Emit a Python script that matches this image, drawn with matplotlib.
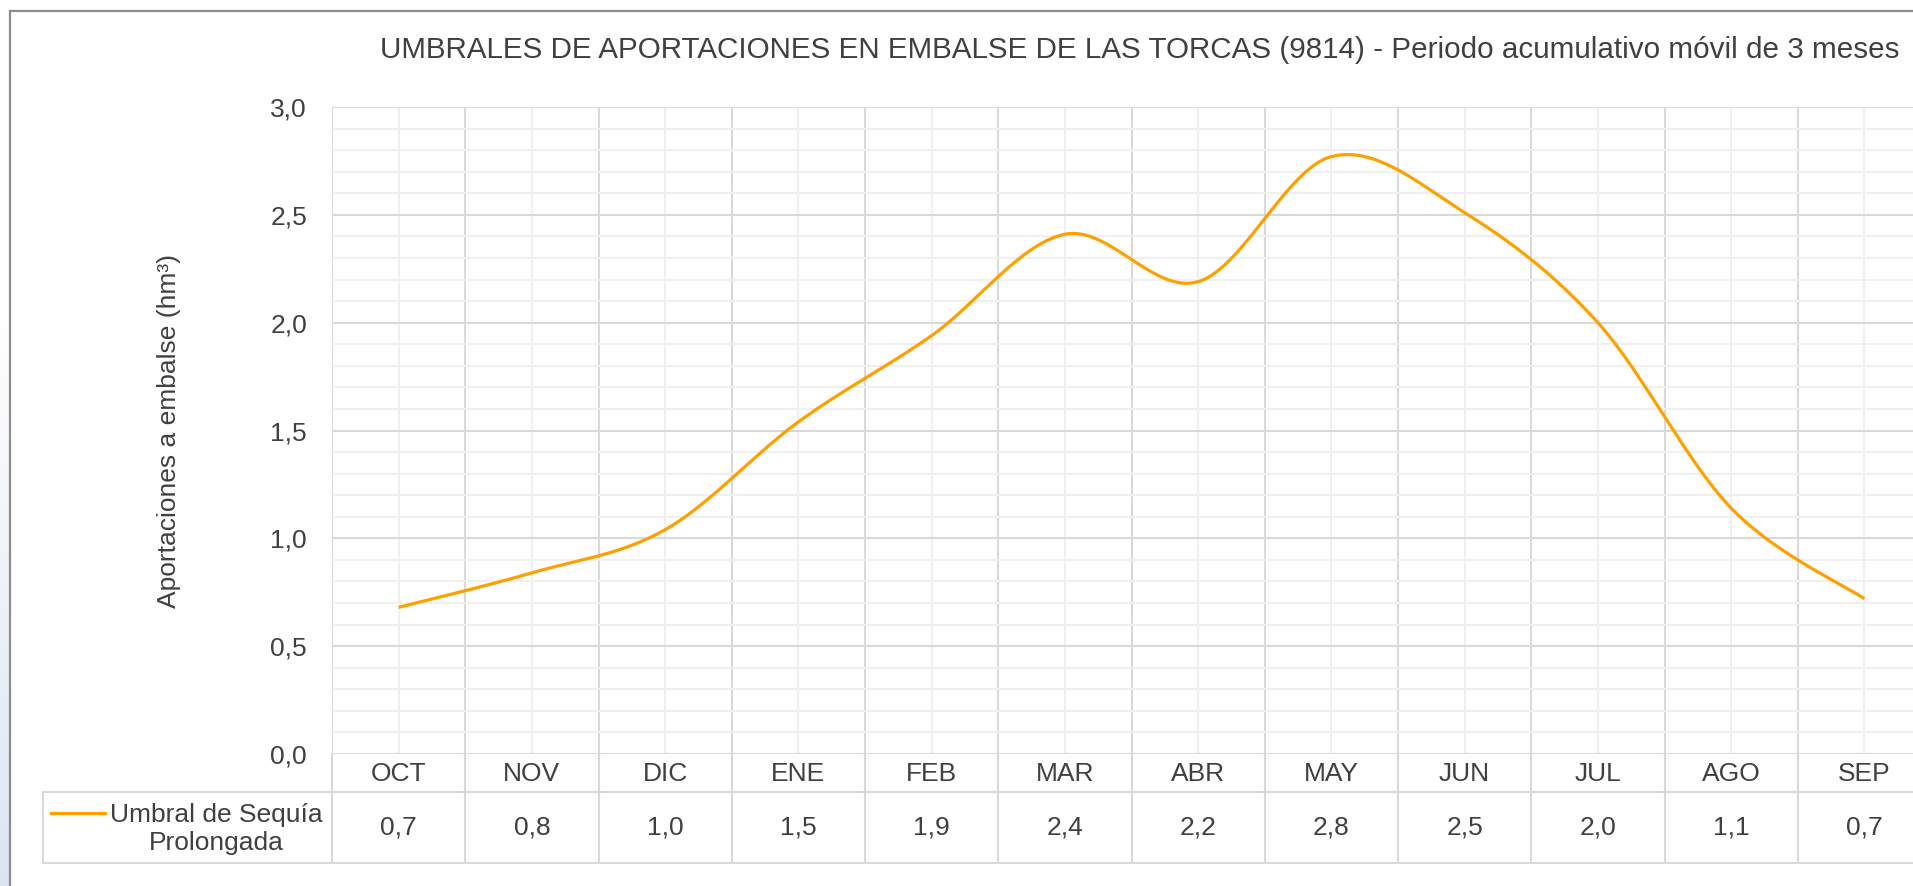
import numpy as np
import matplotlib
matplotlib.use("Agg")
import matplotlib.pyplot as plt
from matplotlib.lines import Line2D
from matplotlib import transforms

plt.rcParams['font.family'] = ['Liberation Sans', 'DejaVu Sans']

# datos
meses = ['OCT', 'NOV', 'DIC', 'ENE', 'FEB', 'MAR', 'ABR', 'MAY', 'JUN', 'JUL', 'AGO', 'SEP']
umbral_sequia = [0.68, 0.84, 1.04, 1.54, 1.94, 2.41, 2.19, 2.77, 2.51, 2.00, 1.14, 0.72]
serie_nombre = 'Umbral de Sequía\nProlongada'
titulo = ('UMBRALES DE APORTACIONES EN EMBALSE DE LAS TORCAS (9814) - '
          'Periodo acumulativo móvil de 3 meses')
y_ticks = [0.0, 0.5, 1.0, 1.5, 2.0, 2.5, 3.0]

W, H = 1913, 886
TXT = '#404040'
GRID_MAJ = '#d9d9d9'
GRID_MIN = '#f0f0f0'
NARANJA = '#ffa000'
FS = 19


def coma(v):
    return f"{v:.1f}".replace('.', ',')


def suavizar(xs, ys, n=40):
    # curva suavizada tipo excel (bezier con tangentes catmull-rom)
    xs = np.asarray(xs, float)
    ys = np.asarray(ys, float)
    px = np.concatenate([[xs[0]], xs, [xs[-1]]])
    py = np.concatenate([[ys[0]], ys, [ys[-1]]])
    outx, outy = [], []
    t = np.linspace(0, 1, n)
    for i in range(1, len(px) - 2):
        p0 = np.array([px[i - 1], py[i - 1]])
        p1 = np.array([px[i], py[i]])
        p2 = np.array([px[i + 1], py[i + 1]])
        p3 = np.array([px[i + 2], py[i + 2]])
        c1 = p1 + (p2 - p0) / 6
        c2 = p2 - (p3 - p1) / 6
        b = ((1 - t) ** 3)[:, None] * p1 + (3 * (1 - t) ** 2 * t)[:, None] * c1 \
            + (3 * (1 - t) * t ** 2)[:, None] * c2 + (t ** 3)[:, None] * p2
        outx.extend(b[:, 0])
        outy.extend(b[:, 1])
    return np.array(outx), np.array(outy)


fig = plt.figure(figsize=(W / 100, H / 100), dpi=100)
fx = lambda p: p / W
fy = lambda p: 1 - p / H

# franja azulada a la izquierda
bg = fig.add_axes([0, 0, 9 / W, 1])
grad = np.clip((np.linspace(0, 1, 256) - 0.35) / 0.65, 0, 1)[:, None, None]
azul = np.array([0.86, 0.90, 0.95])
col = (1 - grad) * np.ones(3) + grad * azul
bg.imshow(col, aspect='auto', extent=[0, 1, 0, 1], origin='upper')
bg.axis('off')

# marco exterior
fig.add_artist(Line2D([fx(10), fx(10)], [0, fy(11)], color='#8c8c8c', lw=1.6,
                      transform=fig.transFigure))
fig.add_artist(Line2D([fx(10), 1], [fy(11), fy(11)], color='#8c8c8c', lw=1.6,
                      transform=fig.transFigure))

x_left, x_right = 332, 1931
y_top, y_bot = 107, 754
ax = fig.add_axes([fx(x_left), fy(y_bot), (x_right - x_left) / W, (y_bot - y_top) / H])

x = np.arange(len(meses))
sx, sy = suavizar(x, umbral_sequia)
ax.plot(sx, sy, color=NARANJA, lw=2.3, solid_capstyle='butt', zorder=5)

ax.set_xlim(-0.5, len(meses) - 0.5)
ax.set_ylim(0, 3.0)
ax.set_yticks(y_ticks)
ax.set_yticklabels([coma(v) for v in y_ticks])
ax.set_yticks(np.arange(0, 3.01, 0.1), minor=True)
ax.set_xticks(np.arange(-0.5, len(meses), 1.0))
ax.set_xticks(x, minor=True)
ax.set_xticklabels([])
ax.tick_params(axis='both', which='both', length=0)
ax.tick_params(axis='y', labelsize=FS, labelcolor=TXT, pad=18)
ax.grid(which='minor', color=GRID_MIN, lw=1.5, zorder=0)
ax.grid(which='major', color=GRID_MAJ, lw=1.5, zorder=1)
for s in ax.spines.values():
    s.set_visible(False)
ax.set_axisbelow(True)

ax.set_ylabel('Aportaciones a embalse (hm³)', fontsize=FS, color=TXT)
ax.yaxis.set_label_coords((181 - x_left) / (x_right - x_left), 0.5)

fig.text(fx(1140), fy(58), titulo, ha='center', va='baseline', fontsize=21.3, color=TXT)

# tabla de datos
bt = transforms.blended_transform_factory(ax.transData, fig.transFigure)
row1, row2 = 792, 863
for b in np.arange(-0.5, len(meses), 1.0):
    ax.add_line(Line2D([b, b], [fy(y_bot), fy(row2)], color=GRID_MAJ, lw=1.5,
                       transform=bt, clip_on=False))
for yy in (row1, row2):
    fig.add_artist(Line2D([fx(43), 1], [fy(yy), fy(yy)], color=GRID_MAJ, lw=1.5,
                          transform=fig.transFigure))
fig.add_artist(Line2D([fx(43), fx(43)], [fy(row1), fy(row2)], color=GRID_MAJ, lw=1.5,
                      transform=fig.transFigure))
for i, m in enumerate(meses):
    ax.text(i, fy((y_bot + row1) / 2 + 1), m, transform=bt, ha='center', va='center',
            fontsize=FS, color=TXT, clip_on=False)
    ax.text(i, fy((row1 + row2) / 2), coma(umbral_sequia[i]), transform=bt, ha='center',
            va='center', fontsize=FS, color=TXT, clip_on=False)

fig.add_artist(Line2D([fx(51), fx(105)], [fy(813), fy(813)], color=NARANJA, lw=2.3,
                      transform=fig.transFigure))
fig.text(fx(216), fy(829), serie_nombre, ha='center', va='center', fontsize=FS,
         color=TXT, multialignment='center', linespacing=1.25)

fig.savefig('out.png', dpi=100)
